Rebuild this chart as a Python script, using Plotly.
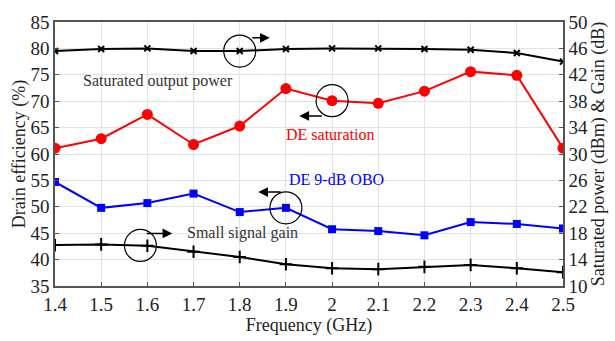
import plotly.graph_objects as go

freq = [1.4, 1.5, 1.6, 1.7, 1.8, 1.9, 2.0, 2.1, 2.2, 2.3, 2.4, 2.5]
sat_power = [45.6, 45.9, 46.0, 45.6, 45.6, 45.9, 46.0, 46.0, 45.9, 45.8, 45.3, 44.0]
de_sat = [61.1, 62.9, 67.5, 61.8, 65.3, 72.4, 70.1, 69.6, 71.9, 75.6, 74.9, 61.1]
de_obo = [54.7, 49.8, 50.7, 52.5, 49.0, 49.8, 45.75, 45.4, 44.6, 47.1, 46.75, 45.9]
gain = [16.2, 16.3, 16.1, 15.2, 14.4, 13.3, 12.7, 12.55, 12.9, 13.2, 12.7, 12.1]

x_ticks = [1.4, 1.5, 1.6, 1.7, 1.8, 1.9, 2.0, 2.1, 2.2, 2.3, 2.4, 2.5]
x_ticktext = ["1.4", "1.5", "1.6", "1.7", "1.8", "1.9", "2", "2.1", "2.2", "2.3", "2.4", "2.5"]
y1_ticks = [35, 40, 45, 50, 55, 60, 65, 70, 75, 80, 85]
y2_ticks = [10, 14, 18, 22, 26, 30, 34, 38, 42, 46, 50]

FONT = "Liberation Serif, Times New Roman, serif"

fig = go.Figure()
fig.add_trace(go.Scatter(x=freq, y=sat_power, yaxis="y2", mode="lines+markers",
                         line=dict(color="black", width=2),
                         marker=dict(symbol="x-thin", size=6, line=dict(color="black", width=2)),
                         showlegend=False))
fig.add_trace(go.Scatter(x=freq, y=de_sat, mode="lines+markers",
                         line=dict(color="#ff0000", width=2),
                         marker=dict(symbol="circle", size=11, color="#ff0000"),
                         showlegend=False))
fig.add_trace(go.Scatter(x=freq, y=de_obo, mode="lines+markers",
                         line=dict(color="#0000ff", width=2),
                         marker=dict(symbol="square", size=8, color="#0000ff"),
                         showlegend=False))
fig.add_trace(go.Scatter(x=freq, y=gain, yaxis="y2", mode="lines+markers",
                         line=dict(color="black", width=2),
                         marker=dict(symbol="cross-thin", size=9, line=dict(color="black", width=2)),
                         showlegend=False))

axis_common = dict(showline=True, linecolor="#555", linewidth=1.5, ticks="inside",
                   ticklen=4, tickcolor="#555", gridcolor="#e3e3e3", gridwidth=1,
                   tickfont=dict(family=FONT, size=19, color="#222"), zeroline=False)

fig.update_layout(
    width=615, height=341,
    margin=dict(l=55, r=46, t=15, b=48),
    paper_bgcolor="white", plot_bgcolor="white",
    font=dict(family=FONT, size=18, color="#222"),
    xaxis=dict(range=[1.4, 2.5], tickvals=x_ticks, ticktext=x_ticktext, mirror=True,
               title=dict(text="Frequency (GHz)", font=dict(family=FONT, size=18), standoff=2),
               **axis_common),
    yaxis=dict(range=[35, 85], tickvals=y1_ticks,
               title=dict(text="Drain efficiency (%)", font=dict(family=FONT, size=18), standoff=0),
               **axis_common),
    yaxis2=dict(range=[10, 50], tickvals=y2_ticks, overlaying="y", side="right",
                showgrid=False,
                title=dict(text="Saturated power (dBm) & Gain (dB)", font=dict(family=FONT, size=18), standoff=2),
                **{k: v for k, v in axis_common.items() if k != "gridcolor"}),
)

# Circles around representative points
circles = [(1.8, sat_power[4], "y2"), (2.0, de_sat[6], "y"), (1.9, de_obo[5], "y"), (1.585, 16.15, "y2")]
for cx, cy, yr in circles:
    fig.add_shape(type="circle", xref="x", yref=yr, xsizemode="pixel", ysizemode="pixel",
                  xanchor=cx, yanchor=cy, x0=-16, x1=16, y0=-16, y1=16,
                  line=dict(color="black", width=1.2))

# Arrows
arrows = [(1.865, 82.0, -19), (1.929, 67.2, 24), (1.840, 52.8, 24), (1.654, 44.95, -27)]
for ax_, ay_, dx in arrows:
    fig.add_annotation(x=ax_, y=ay_, xref="x", yref="y", ax=dx, ay=0, axref="pixel",
                       showarrow=True, arrowhead=2, arrowsize=1.3, arrowwidth=1.5,
                       arrowcolor="black", text="")

labels = [
    (1.622, 73.9, "Saturated output power", "#333"),
    (1.995, 63.7, "DE saturation", "#ff0000"),
    (2.009, 55.2, "DE 9-dB OBO", "#0000ff"),
    (1.806, 45.0, "Small signal gain", "#333"),
]
for lx, ly, txt, col in labels:
    fig.add_annotation(x=lx, y=ly, xref="x", yref="y", text=txt, showarrow=False,
                       font=dict(family=FONT, size=16, color=col))

fig.write_html("out.html")
